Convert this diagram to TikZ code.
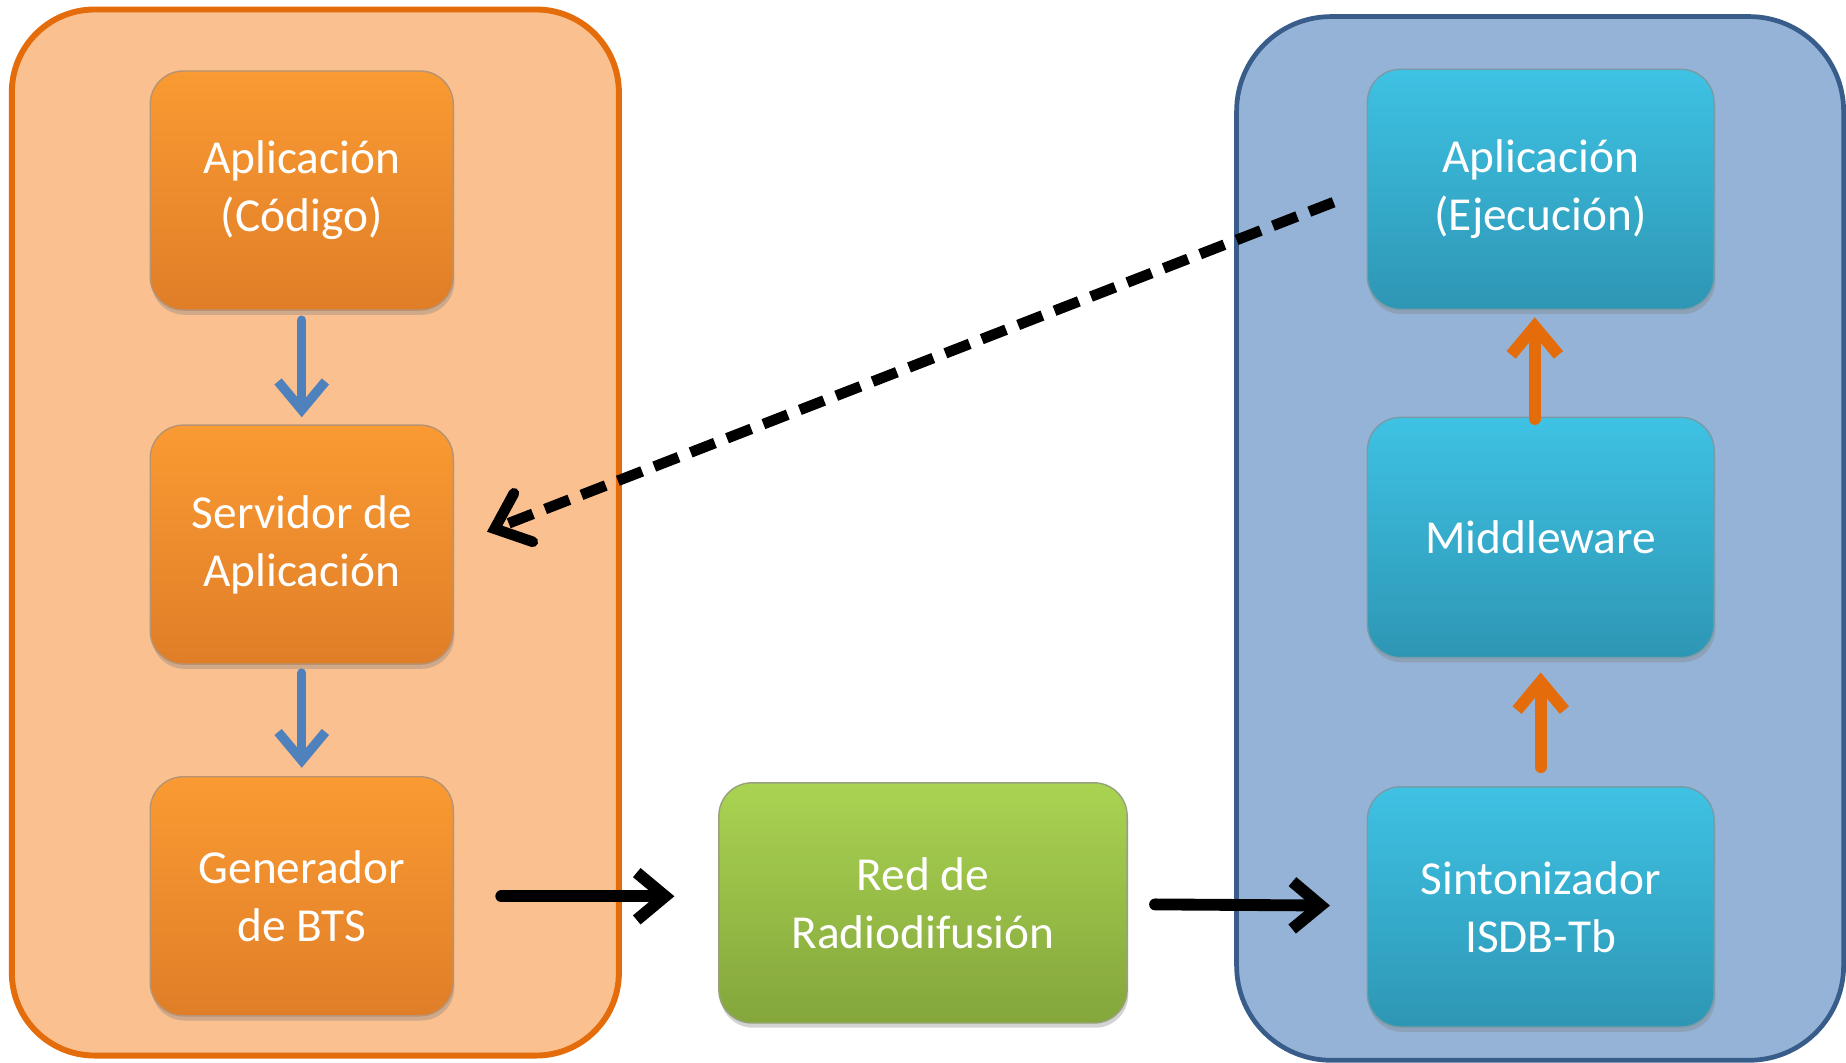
\documentclass[tikz,border=0pt]{standalone}
\usepackage{fontspec}
\setmainfont{Carlito}
\usetikzlibrary{positioning, arrows.meta, shadows}

\definecolor{durazno}{HTML}{FAC090}
\definecolor{bordenaranja}{HTML}{E46C0A}
\definecolor{celeste}{HTML}{95B3D7}
\definecolor{bordeazul}{HTML}{385D8A}
\definecolor{naranjaA}{HTML}{FA9A32}
\definecolor{naranjaB}{HTML}{E07E28}
\definecolor{verdeA}{HTML}{AAD352}
\definecolor{verdeB}{HTML}{84A63B}
\definecolor{cianA}{HTML}{3EC2E4}
\definecolor{cianB}{HTML}{2E96B4}
\definecolor{azulflecha}{HTML}{4F81BD}

\tikzset{
  caja/.style={rectangle, rounded corners=28pt, align=center, text=white,
    font=\fontsize{40}{49}\selectfont, line width=1.2pt,
    drop shadow={opacity=0.35, shadow xshift=1pt, shadow yshift=-4pt}},
  cajanaranja/.style={caja, top color=naranjaA, bottom color=naranjaB,
    draw=naranjaB!60!black!60, minimum width=256pt, minimum height=202pt},
  cajaverde/.style={caja, top color=verdeA, bottom color=verdeB,
    draw=verdeB!60!black!60, minimum width=345pt, minimum height=203pt},
  cajaazul/.style={caja, top color=cianA, bottom color=cianB,
    draw=cianB!60!black!60, minimum width=293pt, minimum height=203pt},
  flecha/.style={line width=10pt, line cap=round, line join=round,
    -{Straight Barb[length=24pt, width=40pt]}},
}

\begin{document}
\begin{tikzpicture}[x=1pt, y=1pt]
  \useasboundingbox (0,0) rectangle (1560,-898);

  % contenedores
  \draw[fill=durazno, draw=bordenaranja, line width=5pt, rounded corners=70pt]
    (10,-8) rectangle (523,-892);
  \draw[fill=celeste, draw=bordeazul, line width=4pt, rounded corners=80pt]
    (1045,-14) rectangle (1558,-896);

  % emisor
  \node[cajanaranja] (codigo) at (255,-161) {Aplicación\\(Código)};
  \node[cajanaranja] (servidor) [below=96pt of codigo] {Servidor de\\Aplicación};
  \node[cajanaranja] (generador) [below=94pt of servidor] {Generador\\de BTS};

  \node[cajaverde] (red) at (780,-763) {Red de\\Radiodifusión};

  % receptor
  \node[cajaazul] (ejecucion) at (1302,-160) {Aplicación\\(Ejecución)};
  \node[cajaazul] (middleware) [below=90pt of ejecucion] {Middleware};
  \node[cajaazul] (sintonizador) [below=108pt of middleware] {Sintonizador\\ISDB-Tb};

  \draw[flecha, azulflecha, line width=8pt, shorten <=8pt, shorten >=6pt] (codigo) -- (servidor);
  \draw[flecha, azulflecha, line width=8pt, shorten <=7pt, shorten >=7pt] (servidor) -- (generador);

  \draw[flecha, black, shorten <=40pt, shorten >=37pt] (generador) -- (red.west |- generador);
  \draw[flecha, black, shorten <=23pt, shorten >=31pt] (red) -- (sintonizador);

  \draw[flecha, bordenaranja, shorten <=16pt, shorten >=12pt] (sintonizador) -- (middleware);
  \draw[flecha, bordenaranja, shorten <=-2pt, shorten >=6pt]
    ([xshift=-5pt]middleware.north) -- ([xshift=-5pt]ejecucion.south);

  \draw[flecha, black, line width=9pt, dash pattern=on 22pt off 11pt, line cap=butt,
    -{Straight Barb[length=26pt, width=44pt, line cap=round]}, shorten <=30pt, shorten >=30pt]
    (ejecucion.west) -- (servidor.east);
\end{tikzpicture}
\end{document}
